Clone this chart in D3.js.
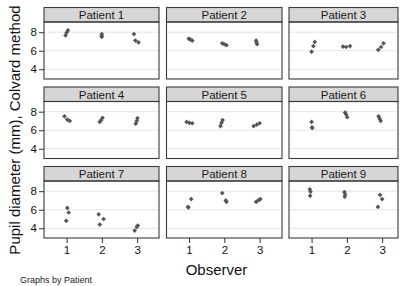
<!DOCTYPE html>
<html>
<head>
<meta charset="utf-8">
<script src="https://cdn.jsdelivr.net/npm/d3@7"></script>
<style>
    body { margin: 0; background: #fff; }
    svg { display: block; font-family: "Liberation Sans", Arial, Helvetica, sans-serif; }
</style>
</head>
<body>
<div id="chart"></div>
<script>
// Pupil diameter by observer, one panel per patient

const patients = ['Patient 1', 'Patient 2', 'Patient 3', 'Patient 4', 'Patient 5',
                  'Patient 6', 'Patient 7', 'Patient 8', 'Patient 9'];
const observers = [1, 2, 3];
const yTicks = [4, 6, 8];

// [observer position (with jitter), diameter mm]
const patient1 = [[1.04, 8.2], [1.0, 7.95], [0.97, 7.65], [2.0, 7.8], [1.99, 7.6], [2.0, 7.5],
                  [2.91, 7.8], [2.95, 7.1], [3.04, 6.9]];
const patient2 = [[0.99, 7.3], [1.04, 7.2], [1.09, 7.1], [1.94, 6.8], [2.0, 6.7], [2.06, 6.6],
                  [2.9, 7.1], [2.91, 6.9], [2.93, 6.7]];
const patient3 = [[1.09, 6.95], [1.05, 6.5], [1.0, 5.9], [1.89, 6.45], [1.98, 6.4], [2.09, 6.5],
                  [2.89, 6.1], [2.97, 6.4], [3.04, 6.8]];
const patient4 = [[0.94, 7.5], [1.02, 7.15], [1.09, 7.0], [1.94, 6.9], [1.98, 7.1], [2.02, 7.35],
                  [2.96, 6.7], [2.99, 7.0], [3.01, 7.3]];
const patient5 = [[0.93, 6.9], [1.01, 6.8], [1.09, 6.75], [1.95, 7.1], [1.92, 6.8], [1.89, 6.45],
                  [2.83, 6.45], [2.92, 6.6], [3.0, 6.75]];
const patient6 = [[1.0, 6.9], [1.01, 6.3], [1.02, 6.25], [1.95, 7.9], [1.98, 7.7], [2.01, 7.4],
                  [2.9, 7.5], [2.93, 7.25], [2.96, 7.0]];
const patient7 = [[1.02, 6.2], [1.06, 5.7], [0.99, 4.8], [1.91, 5.5], [2.05, 5.0], [1.94, 4.4],
                  [3.02, 4.3], [2.99, 4.15], [2.93, 3.75]];
const patient8 = [[1.06, 7.15], [0.97, 6.3], [0.98, 6.25], [1.94, 7.8], [2.04, 7.0], [2.06, 6.85],
                  [2.9, 6.85], [2.96, 7.0], [3.02, 7.15]];
const patient9 = [[0.95, 8.2], [0.97, 7.95], [0.96, 7.5], [1.93, 7.9], [1.95, 7.65], [1.94, 7.4],
                  [2.94, 7.6], [3.0, 7.15], [2.88, 6.3]];
const readings = [patient1, patient2, patient3, patient4, patient5,
                  patient6, patient7, patient8, patient9];

const width = 400;
const height = 286;

// Panel layout
const colLeft = [44, 166.5, 289];
const colRight = [159, 282, 398];
const rowTop = [7.5, 87, 166.5];
const stripH = 14.5;
const plotH = 57;

const svg = d3.select('#chart')
    .append('svg')
    .attr('width', width)
    .attr('height', height);

const diamond = d3.symbol().type(d3.symbolDiamond2).size(14);

patients.forEach((name, i) => {
    const col = i % 3;
    const row = Math.floor(i / 3);
    const left = colLeft[col];
    const right = colRight[col];
    const top = rowTop[row] + stripH;

    const x = d3.scaleLinear()
        .domain([0.36, 3.62])
        .range([left, left + 115]);

    const y = d3.scaleLinear()
        .domain([2.95, 9.1])
        .range([top + plotH, top]);

    // Strip
    svg.append('rect')
        .attr('x', left)
        .attr('y', rowTop[row])
        .attr('width', right - left)
        .attr('height', stripH)
        .attr('fill', '#d6d6d6')
        .attr('stroke', '#3a3a3a')
        .attr('stroke-width', 1.1);

    svg.append('text')
        .attr('x', (left + right) / 2)
        .attr('y', rowTop[row] + 11.5)
        .attr('text-anchor', 'middle')
        .attr('font-size', 11.5)
        .attr('fill', '#1a1a1a')
        .text(name);

    // Grid
    svg.append('g')
        .selectAll('line')
        .data(yTicks)
        .enter()
        .append('line')
        .attr('x1', left)
        .attr('x2', right)
        .attr('y1', d => y(d))
        .attr('y2', d => y(d))
        .attr('stroke', '#e4e4e4')
        .attr('stroke-width', 1);

    // Points
    svg.append('g')
        .selectAll('path')
        .data(readings[i])
        .enter()
        .append('path')
        .attr('d', diamond)
        .attr('transform', d => `translate(${x(d[0])},${y(d[1])})`)
        .attr('fill', '#555');

    // Frame
    svg.append('rect')
        .attr('x', left)
        .attr('y', top)
        .attr('width', right - left)
        .attr('height', plotH)
        .attr('fill', 'none')
        .attr('stroke', '#3a3a3a')
        .attr('stroke-width', 1.1);

    // Axes on outer panels only
    if (col === 0) {
        const yAxis = svg.append('g')
            .attr('transform', `translate(${left},0)`)
            .call(d3.axisLeft(y).tickValues(yTicks).tickFormat(d3.format('d')).tickSize(5).tickPadding(2));
        yAxis.select('.domain').remove();
        yAxis.selectAll('line').attr('stroke', '#333');
        yAxis.selectAll('text')
            .attr('font-size', 11.5)
            .attr('font-family', null)
            .attr('fill', '#111');
    }

    if (row === 2) {
        const xAxis = svg.append('g')
            .attr('transform', `translate(0,${top + plotH})`)
            .call(d3.axisBottom(x).tickValues(observers).tickFormat(d3.format('d')).tickSize(5).tickPadding(3));
        xAxis.select('.domain').remove();
        xAxis.selectAll('line').attr('stroke', '#333');
        xAxis.selectAll('text')
            .attr('font-size', 11.5)
            .attr('font-family', null)
            .attr('fill', '#111');
    }
});

// Axis titles
svg.append('text')
    .attr('transform', 'translate(20,130) rotate(-90)')
    .attr('text-anchor', 'middle')
    .attr('font-size', 15)
    .attr('fill', '#111')
    .text('Pupil diameter (mm), Colvard method');

svg.append('text')
    .attr('x', 216.5)
    .attr('y', 275)
    .attr('text-anchor', 'middle')
    .attr('font-size', 15)
    .attr('fill', '#111')
    .text('Observer');

svg.append('text')
    .attr('x', 20)
    .attr('y', 282.5)
    .attr('font-size', 9)
    .attr('fill', '#222')
    .text('Graphs by Patient');
</script>
</body>
</html>
